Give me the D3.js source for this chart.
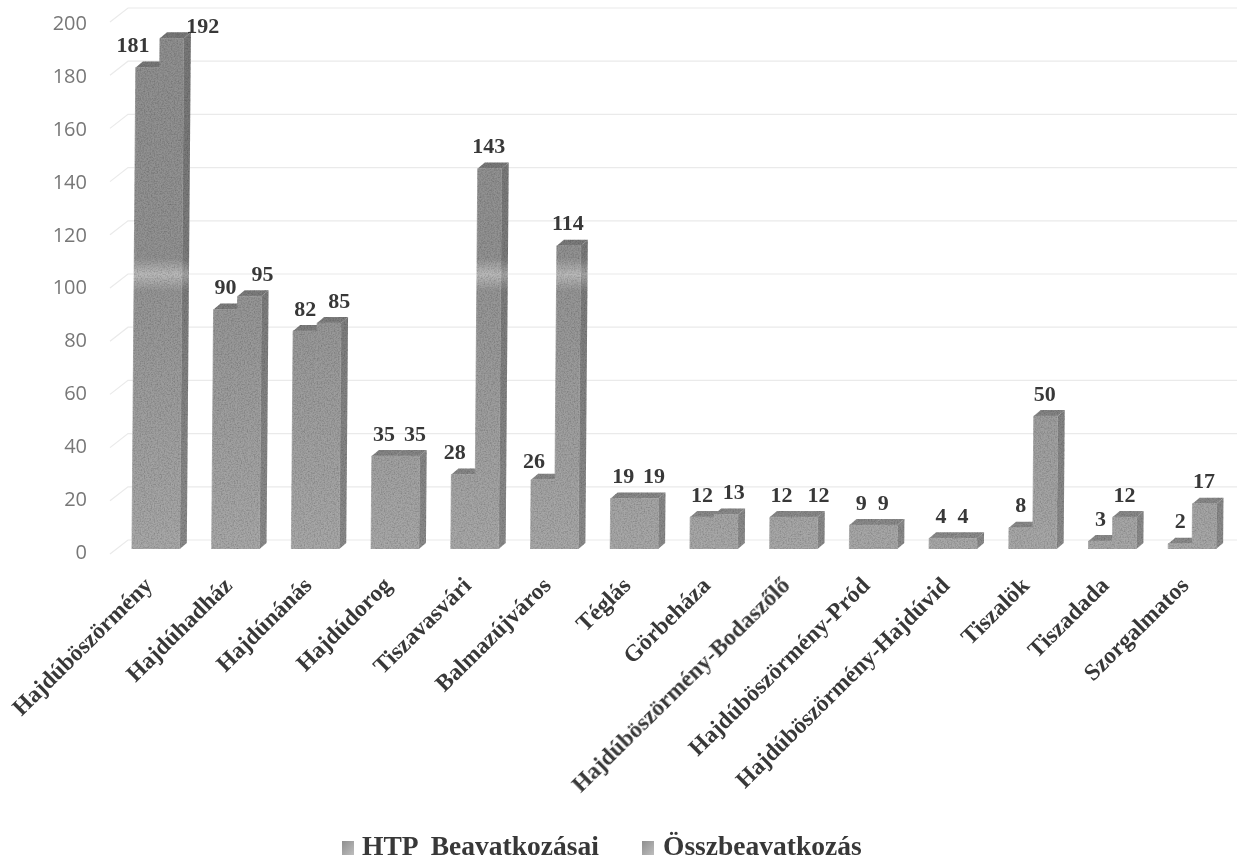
<!DOCTYPE html>
<html>
<head>
<meta charset="utf-8">
<title>HTP Beavatkozásai</title>
<script src="https://cdn.jsdelivr.net/npm/d3@7"></script>
<style>
  html, body { margin: 0; padding: 0; background: #fff; }
  svg { display: block; }
  .serif { font-family: "Liberation Serif", serif; font-weight: bold; fill: #383838; }
</style>
</head>
<body>
<div id="chart"></div>
<script>
const categories = ['Hajdúböszörmény', 'Hajdúhadház', 'Hajdúnánás', 'Hajdúdorog', 'Tiszavasvári', 'Balmazújváros', 'Téglás', 'Görbeháza', 'Hajdúböszörmény-Bodaszőlő', 'Hajdúböszörmény-Pród', 'Hajdúböszörmény-Hajdúvid', 'Tiszalök', 'Tiszadada', 'Szorgalmatos'];
const htpValues = [181, 90, 82, 35, 28, 26, 19, 12, 12, 9, 4, 8, 3, 2];
const totalValues = [192, 95, 85, 35, 143, 114, 19, 13, 12, 9, 4, 50, 12, 17];
const seriesNames = ['HTP  Beavatkozásai', 'Összbeavatkozás'];
const yTicks = [0, 20, 40, 60, 80, 100, 120, 140, 160, 180, 200];

const width = 1244, height = 860;
const baseY = 549;        // front edge of the floor
const depthX = 7, depthY = 6;
const wallY = 9;          // back wall sits this far above the front
const lean = 0.008;       // the scan leans slightly to the right going up

const svg = d3.select('#chart').append('svg')
  .attr('width', width)
  .attr('height', height);

const defs = svg.append('defs');

// light band across the tall bars at about y=275
const frontGrad = defs.append('linearGradient')
  .attr('id', 'front').attr('gradientUnits', 'userSpaceOnUse')
  .attr('x1', 0).attr('y1', 0).attr('x2', 0).attr('y2', baseY);
[[0, '#8f8f8f'], [0.47, '#929292'], [0.5, '#bababa'], [0.53, '#959595'], [1, '#a8a8a8']]
  .forEach(s => frontGrad.append('stop').attr('offset', s[0]).attr('stop-color', s[1]));

const sideGrad = defs.append('linearGradient')
  .attr('id', 'side').attr('gradientUnits', 'userSpaceOnUse')
  .attr('x1', 0).attr('y1', 0).attr('x2', 0).attr('y2', baseY);
[[0, '#777777'], [0.47, '#7b7b7b'], [0.5, '#a4a4a4'], [0.53, '#7d7d7d'], [1, '#8b8b8b']]
  .forEach(s => sideGrad.append('stop').attr('offset', s[0]).attr('stop-color', s[1]));

const legendGrad = defs.append('linearGradient')
  .attr('id', 'swatch').attr('x1', 0).attr('y1', 0).attr('x2', 1).attr('y2', 1);
[[0, '#8f8f8f'], [1, '#bdbdbd']]
  .forEach(s => legendGrad.append('stop').attr('offset', s[0]).attr('stop-color', s[1]));

const grain = defs.append('filter').attr('id', 'grain')
  .attr('x', 0).attr('y', 0).attr('width', 1).attr('height', 1);
grain.append('feTurbulence').attr('type', 'fractalNoise').attr('baseFrequency', 0.7)
  .attr('numOctaves', 2).attr('seed', 4).attr('result', 'noise');
grain.append('feColorMatrix').attr('in', 'noise').attr('type', 'matrix')
  .attr('values', '0 0 0 0 0  0 0 0 0 0  0 0 0 0 0  0.8 0 0 0 -0.3').attr('result', 'specks');
grain.append('feComposite').attr('in', 'specks').attr('in2', 'SourceAlpha').attr('operator', 'in').attr('result', 'clipped');
const merge = grain.append('feMerge');
merge.append('feMergeNode').attr('in', 'SourceGraphic');
merge.append('feMergeNode').attr('in', 'clipped');

const soft = defs.append('filter').attr('id', 'soft');
soft.append('feGaussianBlur').attr('stdDeviation', 0.45);

const root = svg.append('g').attr('filter', 'url(#soft)');

const y = d3.scaleLinear().domain([0, 200]).range([baseY, baseY - 532]);
const x0 = d3.scaleBand().domain(categories).range([116, 1232]).paddingInner(0.4).paddingOuter(0.2);
const x1 = d3.scaleBand().domain([0, 1]).range([0, x0.bandwidth()]);

// gridlines on the wall and on the left side wall
const grid = root.append('g').attr('stroke', '#eaeaea').attr('fill', 'none').attr('stroke-width', 1.2);
grid.selectAll('path').data(yTicks).join('path')
  .attr('d', d => {
    const yy = y(d) - wallY;
    return `M110,${yy + 14}L128,${yy}L1237,${yy}`;
  });

// value axis, its labels are spaced a little tighter than the bars
const yLabels = d3.scaleLinear().domain([0, 200]).range([552, 23]);
const yAxis = d3.axisLeft(yLabels).tickValues(yTicks).tickSize(0).tickPadding(0);
const yG = root.append('g').attr('transform', 'translate(87,0)').call(yAxis);
yG.select('.domain').remove();
yG.selectAll('text')
  .attr('font-family', '"Open Sans", sans-serif')
  .attr('font-size', 20)
  .attr('fill', '#777');

// category axis
const xAxis = d3.axisBottom(x0).tickSize(0).tickPadding(0);
const xG = root.append('g').attr('transform', 'translate(-8,581)').call(xAxis);
xG.select('.domain').remove();
xG.selectAll('text')
  .attr('class', 'serif')
  .attr('font-size', 23.5)
  .attr('y', 0)
  .attr('dy', '0.35em')
  .attr('text-anchor', 'end')
  .attr('transform', 'rotate(-44.5)');

const poly = d3.line().curve(d3.curveLinearClosed);
const tilt = (px, py) => [px + (baseY - py) * lean, py];

const bars = [];
categories.forEach((c, i) => {
  [htpValues[i], totalValues[i]].forEach((v, s) => bars.push({ c, s, v }));
});

const bar = root.append('g').attr('filter', 'url(#grain)')
  .selectAll('g').data(bars).join('g');

bar.append('path').attr('fill', 'url(#side)')
  .attr('d', d => {
    const r = x0(d.c) + x1(d.s) + x1.bandwidth(), t = y(d.v);
    return poly([tilt(r, baseY), tilt(r + depthX, baseY - depthY), tilt(r + depthX, t - depthY), tilt(r, t)]);
  });
bar.append('path').attr('fill', 'url(#side)')
  .attr('d', d => {
    const l = x0(d.c) + x1(d.s), r = l + x1.bandwidth(), t = y(d.v);
    return poly([tilt(l, t), tilt(l + depthX, t - depthY), tilt(r + depthX, t - depthY), tilt(r, t)]);
  });
// the stroke hides the seam between two equal bars
bar.append('path').attr('fill', 'url(#front)')
  .attr('stroke', 'url(#front)').attr('stroke-width', 0.7)
  .attr('d', d => {
    const l = x0(d.c) + x1(d.s), r = l + x1.bandwidth(), t = y(d.v);
    return poly([tilt(l, baseY), tilt(l, t), tilt(r, t), tilt(r, baseY)]);
  });

// hand placed labels in the original, nudged from the centre of their bar
const nudgeX = [
  [-11, 2, 2, 1, -8, -8.5, 1, 0, 0, 0, 0, 0, 0, 0],
  [35, 15, 12, 8, 2, 1.5, 8, 8, 13, -2, -2, 0, 0, 0]
];
const nudgeY = { '0-5': 3, '1-0': 10 };

root.append('g').selectAll('text').data(bars).join('text')
  .attr('class', 'serif')
  .attr('font-size', 22)
  .attr('text-anchor', 'middle')
  .attr('dy', '0.35em')
  .attr('x', d => x0(d.c) + x1(d.s) + x1.bandwidth() / 2 + nudgeX[d.s][categories.indexOf(d.c)])
  .attr('y', d => y(d.v) - 23 + (nudgeY[d.s + '-' + categories.indexOf(d.c)] || 0))
  .text(d => d.v);

// legend
const legendX = [342, 642];
const legend = root.append('g').selectAll('g').data(seriesNames).join('g')
  .attr('transform', (d, i) => `translate(${legendX[i]},855)`);
legend.append('rect')
  .attr('y', -14).attr('width', 12).attr('height', 14)
  .attr('fill', 'url(#swatch)');
legend.append('text')
  .attr('class', 'serif')
  .attr('x', (d, i) => i ? 21 : 20)
  .attr('font-size', 27.5)
  .style('white-space', 'pre')
  .text(d => d);
</script>
</body>
</html>
